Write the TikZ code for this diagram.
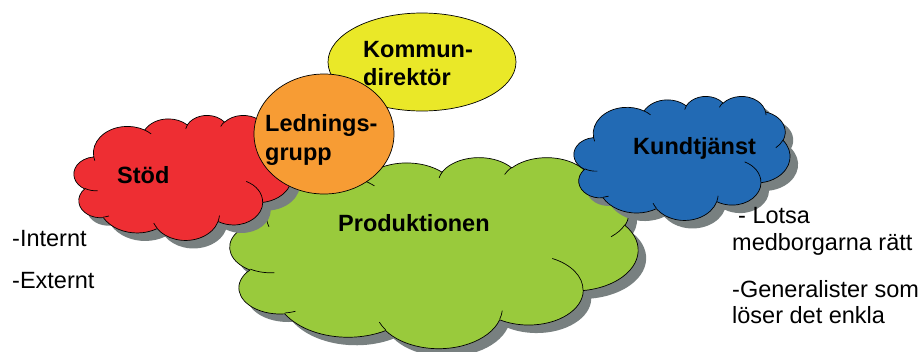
\documentclass[tikz,border=0pt]{standalone}
\usepackage{fontspec}
\setmainfont{Liberation Sans}
\usetikzlibrary{shapes.geometric}
\definecolor{cRed}{RGB}{238,46,51}
\definecolor{cGreen}{RGB}{153,202,60}
\definecolor{cBlue}{RGB}{34,106,180}
\definecolor{cOrange}{RGB}{247,156,52}
\definecolor{cYellow}{RGB}{234,232,40}
\definecolor{cShadow}{RGB}{120,128,128}
\tikzset{
  cloudline/.style={draw=black, line width=0.7pt},
  ovalbox/.style={ellipse, draw=black, line width=0.7pt, inner sep=0pt},
  boldlabel/.style={anchor=base west, inner sep=0pt, font=\fontsize{23.5}{28}\selectfont\bfseries},
  plainlabel/.style={anchor=base west, inner sep=0pt, font=\fontsize{23.5}{28}\selectfont},
}
% convert a visual-angle elliptic arc to parametric angles
\newcommand\cldarc[4]{%
  \pgfmathsetmacro\cldS{atan2((#1)*sin(#3),(#2)*cos(#3))}%
  \pgfmathsetmacro\cldE{atan2((#1)*sin((#3)+(#4)),(#2)*cos((#3)+(#4)))}%
  \pgfmathsetmacro\cldD{mod(\cldE-\cldS+720,360)}%
  \global\let\cldS\cldS\global\let\cldD\cldD}
\newcommand\carc[4]{\pgfextra{\cldarc{#1}{#2}{#3}{#4}} arc[start angle=\cldS, delta angle=\cldD, x radius=#1, y radius=#2]}
\newcommand\cldpath{(3.900,14.370)
  \carc{6.753}{9.190}{-190.4875}{123.7805}
  \carc{5.333}{7.267}{-144.1024}{89.9452}
  \carc{4.365}{5.945}{-145.8079}{99.7230}
  \carc{4.857}{6.595}{-130.9861}{117.2417}
  \carc{5.333}{7.273}{-78.7089}{109.0269}
  \carc{6.775}{9.220}{-46.2673}{130.2690}
  \carc{5.785}{7.867}{0.6250}{114.0333}
  \carc{6.752}{9.215}{22.4516}{115.1726}
  \carc{7.720}{10.543}{66.2426}{75.7110}
  \carc{4.360}{5.918}{-274.9421}{146.7356}
  \carc{4.345}{5.945}{-246.8285}{152.5189}
  -- cycle}
\newcommand\cldinner{
  (4.693,26.177) \carc{4.345}{5.945}{86.7420}{26.4295}
  (6.928,34.899) \carc{4.360}{5.918}{73.6105}{11.4475}
  (16.478,39.090) \carc{6.752}{9.215}{137.6242}{14.0811}
  (28.827,34.751) \carc{6.752}{9.215}{6.4533}{15.9984}
  (34.129,22.954) \carc{5.785}{7.867}{-70.2924}{70.9174}
  (41.798,15.354) \carc{5.333}{7.273}{30.3180}{27.7515}
  (38.324,5.426) \carc{4.857}{6.595}{-13.7443}{14.8547}
  (29.078,3.952) \carc{4.857}{6.595}{-149.1815}{18.1954}
  (22.141,4.720) \carc{4.365}{5.945}{-163.4943}{17.6864}
  (14.000,5.192) \carc{6.753}{9.190}{-66.7070}{12.3194}
  (4.127,15.789) \carc{6.753}{9.190}{157.6544}{11.8582}}
\newcommand\cloudat[5]{%
  \pgfmathsetmacro\cldxu{#3/43.2}%
  \pgfmathsetmacro\cldyu{#4/43.2}%
  \begin{scope}[shift={(#1,#2)}, x=\cldxu pt, y=-\cldyu pt]
    \fill[cShadow, shift={(8pt,-8pt)}] \cldpath;
    \filldraw[fill=#5, cloudline] \cldpath;
    \draw[cloudline] \cldinner;
  \end{scope}}
\begin{document}
\begin{tikzpicture}[x=1pt,y=-1pt]
\useasboundingbox[fill=white] (0,0) rectangle (923,351);
% clouds
\cloudat{230}{157}{408}{191}{cGreen}
\cloudat{574}{96}{216}{124}{cBlue}
\cloudat{74}{115}{218}{125}{cRed}
% ellipses
\node[ovalbox, fill=cYellow, minimum width=188pt, minimum height=98pt] (kd) at (422,62) {};
\node[ovalbox, fill=cOrange, minimum width=140pt, minimum height=120pt] (lg) at (324,134) {};
% bold labels
\node[boldlabel] (tkd1) at (363,57) {Kommun-};
\node[boldlabel] (tkd2) at (363,85) {direktör};
\node[boldlabel] (tlg1) at (265,131) {Lednings-};
\node[boldlabel] (tlg2) at (265,160) {grupp};
\node[boldlabel] (tstod) at (117,183) {Stöd};
\node[boldlabel] (tprod) at (338,231) {Produktionen};
\node[boldlabel] (tkund) at (633,154) {Kundtjänst};
% plain labels
\node[plainlabel] (i1) at (12,246) {-Internt};
\node[plainlabel] (i2) at (12,288) {-Externt};
\node[plainlabel] (r1) at (738,223) {- Lotsa};
\node[plainlabel] (r2) at (732,250) {medborgarna rätt};
\node[plainlabel] (r3) at (732,297) {-Generalister som};
\node[plainlabel] (r4) at (732,323) {löser det enkla};
\end{tikzpicture}
\end{document}
